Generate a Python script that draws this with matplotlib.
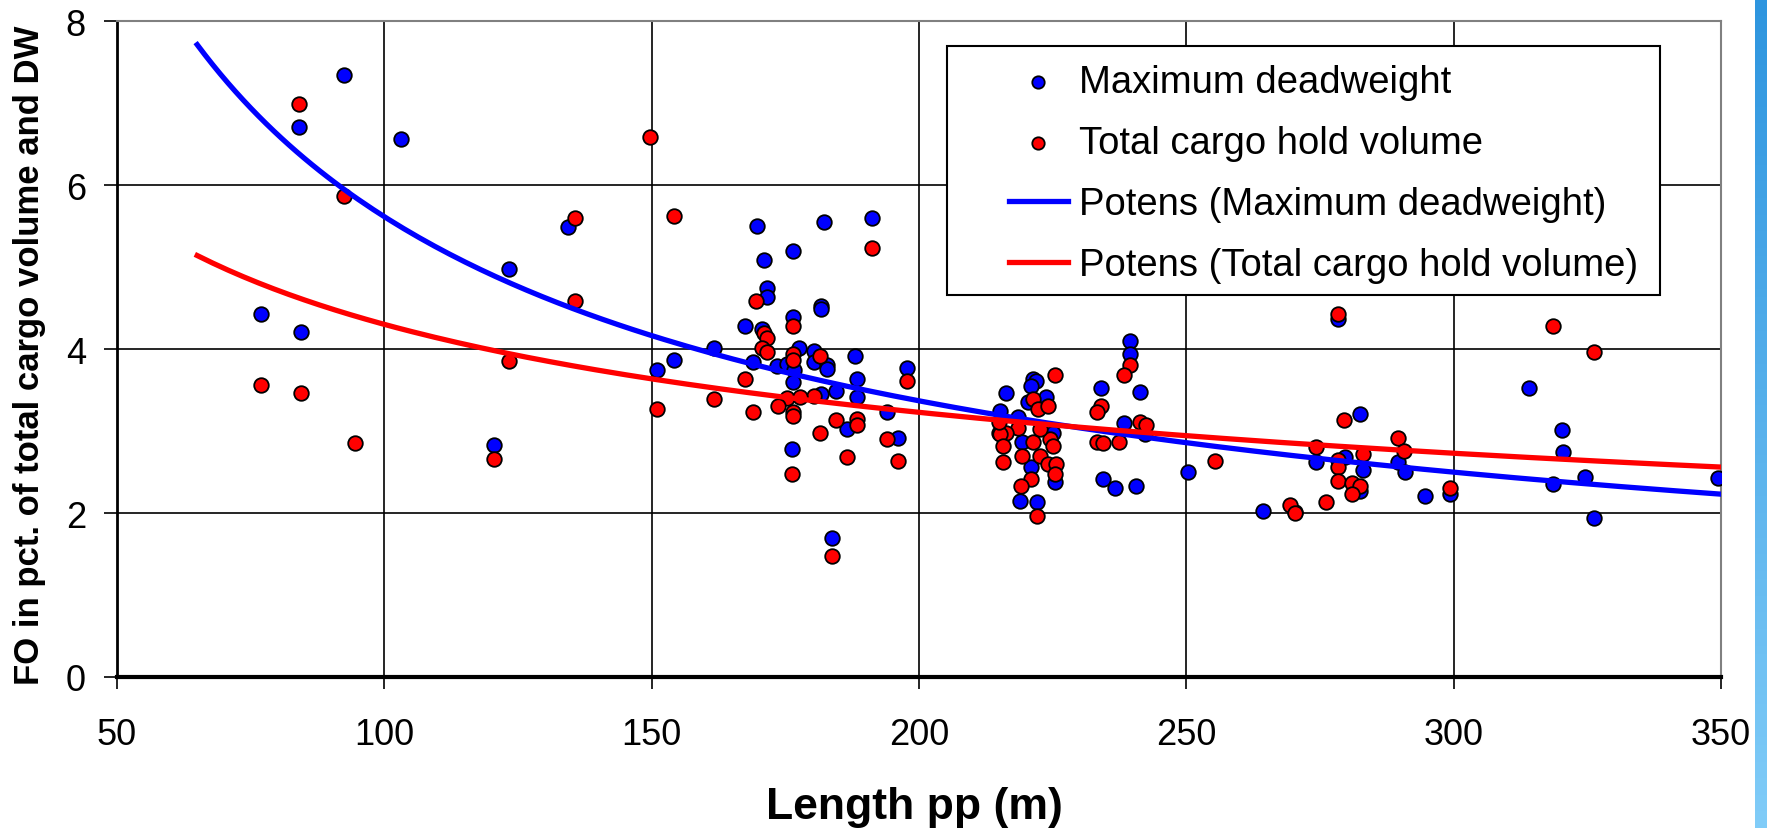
import matplotlib
matplotlib.use("Agg")
import matplotlib.pyplot as plt
from matplotlib.patches import Rectangle
import numpy as np

plt.rcParams["font.family"] = ["Liberation Sans", "DejaVu Sans"]

# Length pp (m) and FO share (%)
DW_X = [92.5, 84.1, 103.2, 134.3, 123.4, 76.9, 84.5, 120.5,
        169.7, 182.3, 191.3, 176.5, 171.0, 171.5, 171.5, 181.6, 181.6, 176.5,
        167.4, 170.7, 161.7, 177.6, 180.4, 180.4, 182.8, 182.8, 188.0, 154.1,
        151.0, 168.9, 173.5, 175.4, 176.6, 176.5, 188.4, 197.7, 184.4, 181.6,
        188.4, 194.1, 186.5, 196.0, 176.2, 183.8,
        216.3, 215.1, 221.3, 221.9, 221.0, 223.8, 220.4, 218.5, 219.2, 225.1,
        221.0, 225.4, 218.8, 222.1, 215.0,
        239.4, 239.4, 234.0, 241.3, 238.4, 242.2, 234.4, 236.6, 240.5,
        250.3, 264.4, 270.3, 278.4, 282.4, 274.3, 279.6, 283.1, 282.4, 289.6,
        314.1, 320.2, 320.5, 324.6, 318.6, 326.3, 349.5, 290.9, 294.6, 299.3]
DW_Y = [7.34, 6.71, 6.56, 5.49, 4.97, 4.43, 4.21, 2.83,
        5.50, 5.55, 5.60, 5.20, 5.08, 4.74, 4.64, 4.52, 4.49, 4.39,
        4.28, 4.24, 4.01, 4.01, 3.97, 3.84, 3.80, 3.76, 3.91, 3.87,
        3.75, 3.84, 3.79, 3.82, 3.74, 3.60, 3.63, 3.77, 3.49, 3.45,
        3.42, 3.23, 3.02, 2.92, 2.78, 1.69,
        3.46, 3.25, 3.63, 3.61, 3.55, 3.41, 3.35, 3.17, 2.86, 2.98,
        2.56, 2.38, 2.15, 2.13, 2.97,
        4.10, 3.94, 3.53, 3.48, 3.10, 2.96, 2.41, 2.31, 2.33,
        2.50, 2.03, 2.01, 4.36, 3.21, 2.62, 2.68, 2.52, 2.27, 2.62,
        3.53, 3.01, 2.74, 2.44, 2.35, 1.94, 2.43, 2.50, 2.21, 2.23]

VOL_X = [84.1, 92.5, 135.7, 135.7, 123.4, 76.9, 84.5, 94.6, 120.5, 149.6,
         154.2, 191.3, 169.6, 176.5, 171.1, 171.5, 170.7, 171.5, 176.5, 176.5,
         181.5, 197.7, 167.4, 161.7, 151.0, 168.9, 180.4, 175.4, 177.8, 173.7,
         176.5, 176.5, 184.4, 188.4, 188.4, 181.5, 194.1, 186.6, 196.0, 176.2,
         183.8,
         225.4, 221.3, 222.3, 224.1, 218.5, 216.3, 215.1, 215.7, 221.3, 224.5,
         225.1, 222.6, 215.7, 219.2, 222.6, 224.1, 225.7, 225.4, 221.0, 219.0,
         222.1, 215.0,
         239.4, 238.3, 234.1, 233.3, 241.3, 242.5, 233.2, 234.4, 237.4,
         255.3, 269.3, 270.3, 276.2, 278.4, 279.4, 274.3, 278.4, 278.4, 283.1,
         278.4, 280.9, 282.4, 280.9, 289.6,
         318.6, 326.2, 290.7, 299.3]
VOL_Y = [6.99, 5.86, 5.60, 4.59, 3.85, 3.56, 3.46, 2.85, 2.66, 6.58,
         5.62, 5.23, 4.59, 4.28, 4.19, 4.14, 4.01, 3.96, 3.94, 3.87,
         3.91, 3.61, 3.63, 3.39, 3.27, 3.23, 3.43, 3.40, 3.41, 3.30,
         3.23, 3.18, 3.14, 3.15, 3.07, 2.97, 2.90, 2.68, 2.64, 2.48,
         1.47,
         3.68, 3.39, 3.27, 3.30, 3.04, 2.98, 2.96, 2.82, 2.87, 2.90,
         2.82, 3.02, 2.62, 2.70, 2.70, 2.60, 2.60, 2.48, 2.41, 2.33,
         1.96, 3.11,
         3.80, 3.68, 3.31, 3.23, 3.11, 3.07, 2.86, 2.85, 2.87,
         2.64, 2.10, 2.00, 2.13, 4.43, 3.13, 2.80, 2.65, 2.56, 2.72,
         2.39, 2.36, 2.33, 2.23, 2.92,
         4.28, 3.96, 2.76, 2.31]

# Excel "Potens" trendlines y = a * x^b, coefficients
DW_TREND = (167.2, -0.737)
VOL_TREND = (28.94, -0.414)
TREND_FROM = 65
TREND_TO = 350


def trend(coef):
    a, b = coef
    xs = np.linspace(TREND_FROM, TREND_TO, 200)
    return xs, a * xs ** b


W, H = 1767, 829
fig = plt.figure(figsize=(W / 100, H / 100), dpi=100)
ax = fig.add_axes([117 / W, 1 - 678 / H, 1604 / W, 656 / H])

ax.scatter(DW_X, DW_Y, s=110, color="#0000ff", edgecolors="black",
           linewidths=1.3, zorder=3, label="Maximum deadweight")
ax.scatter(VOL_X, VOL_Y, s=110, color="#ff0000", edgecolors="black",
           linewidths=1.3, zorder=3, label="Total cargo hold volume")

xs, ys = trend(DW_TREND)
ax.plot(xs, ys, color="#0000ff", lw=3.8, zorder=4,
        label="Potens (Maximum deadweight)")
xs, ys = trend(VOL_TREND)
ax.plot(xs, ys, color="#ff0000", lw=3.8, zorder=4,
        label="Potens (Total cargo hold volume)")

ax.set_xlim(50, 350)
ax.set_ylim(0, 8)
ax.set_xticks(np.arange(50, 351, 50))
ax.set_yticks(np.arange(0, 9, 2))
ax.grid(True, color="black", lw=1.2, zorder=1)
ax.set_axisbelow(True)
ax.tick_params(axis="x", length=8.6, width=1.2, pad=20, labelsize=26)
ax.tick_params(axis="y", length=9.4, width=1.2, pad=13, labelsize=26)
for side in ["top", "right"]:
    ax.spines[side].set_color("#808080")
    ax.spines[side].set_linewidth(1.5)
ax.spines["left"].set_linewidth(2)
ax.spines["bottom"].set_linewidth(3)

ax.set_xlabel("Length pp (m)", fontsize=32, fontweight="bold")
ax.xaxis.set_label_coords(0.497, -0.166)
ax.set_ylabel("FO in pct. of total cargo volume and DW", fontsize=25,
              fontweight="bold")
ax.yaxis.set_label_coords(-0.044, 0.492)

# legend box drawn by hand, Excel pads more on the left
ax.add_patch(Rectangle((0.5175, 0.582), 0.4445, 0.38, transform=ax.transAxes,
                       facecolor="white", edgecolor="black", lw=1.5, zorder=5))
ax.legend(loc="upper left", bbox_to_anchor=(0.556, 0.935), frameon=False,
          fontsize=27.5, handlelength=1.55, handletextpad=0.3,
          labelspacing=0.66, borderpad=0, borderaxespad=0,
          markerscale=0.85).set_zorder(6)

# light blue strip at the right edge
strip = fig.add_axes([1755 / W, 0, 12 / W, 1])
strip.imshow(np.linspace(0, 1, 100).reshape(-1, 1), aspect="auto",
             cmap=matplotlib.colors.LinearSegmentedColormap.from_list(
                 "strip", ["#2e95df", "#80ccf8"]))
strip.axis("off")

fig.savefig("out.png", dpi=100)
